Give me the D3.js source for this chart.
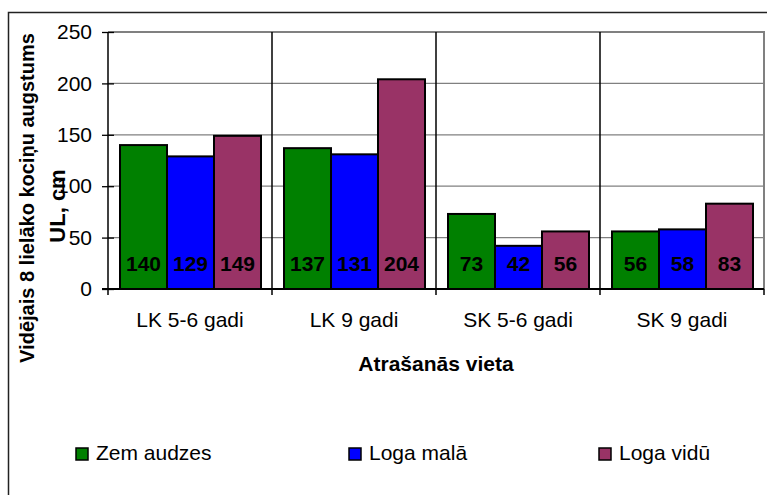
<!DOCTYPE html>
<html>
<head>
<meta charset="utf-8">
<title>Vidējais augstums</title>
<style>
  body { margin: 0; background: #fff; }
  svg text { font-family: "Liberation Sans", Arial, sans-serif; }
</style>
<script src="https://cdnjs.cloudflare.com/ajax/libs/d3/7.8.5/d3.min.js"></script>
</head>
<body>
<svg id="chart" width="767" height="495"></svg>
<script>
// data
const categories = ["LK 5-6 gadi", "LK 9 gadi", "SK 5-6 gadi", "SK 9 gadi"];
const seriesNames = ["Zem audzes", "Loga malā", "Loga vidū"];
const seriesColors = ["#008000", "#0000FF", "#993366"];
const zemAudzes = [140, 137, 73, 56];
const logaMala = [129, 131, 42, 58];
const logaVidu = [149, 204, 56, 83];
const yTicks = [0, 50, 100, 150, 200, 250];

const values = [zemAudzes, logaMala, logaVidu];

const svg = d3.select("#chart");
const LEFT = 108, RIGHT = 764, TOP = 32, BOTTOM = 289;

const xScale = d3.scaleBand()
  .domain(categories)
  .range([LEFT, RIGHT]);

const xSub = d3.scaleBand()
  .domain(seriesNames)
  .range([12, xScale.bandwidth() - 11]);

const yScale = d3.scaleLinear()
  .domain([0, 250])
  .range([BOTTOM, TOP]);

// outer chart border (only top and left visible)
svg.append("path")
  .attr("d", "M8.5,495 L8.5,12.5 L767,12.5")
  .attr("fill", "none")
  .attr("stroke", "#222")
  .attr("stroke-width", 1.5);

// horizontal gridlines
svg.append("g")
  .selectAll("line")
  .data(yTicks.filter(t => t > 0))
  .join("line")
  .attr("x1", LEFT)
  .attr("x2", RIGHT)
  .attr("y1", d => yScale(d))
  .attr("y2", d => yScale(d))
  .attr("stroke", "#808080")
  .attr("stroke-width", d => d === 250 ? 2 : 1.3);

// right border of plot area
svg.append("line")
  .attr("x1", RIGHT).attr("x2", RIGHT)
  .attr("y1", TOP - 1).attr("y2", BOTTOM)
  .attr("stroke", "#808080")
  .attr("stroke-width", 2);

// category dividers (black, crossing the axis)
svg.append("g")
  .selectAll("line")
  .data(categories.slice(1))
  .join("line")
  .attr("x1", d => xScale(d))
  .attr("x2", d => xScale(d))
  .attr("y1", TOP)
  .attr("y2", BOTTOM + 6)
  .attr("stroke", "#000")
  .attr("stroke-width", 1.5);

svg.append("line")
  .attr("x1", RIGHT).attr("x2", RIGHT)
  .attr("y1", BOTTOM).attr("y2", BOTTOM + 6)
  .attr("stroke", "#000")
  .attr("stroke-width", 1.5);

// bars
const groups = svg.append("g")
  .selectAll("g")
  .data(seriesNames)
  .join("g")
  .attr("fill", (d, i) => seriesColors[i]);

groups.selectAll("rect")
  .data((s, i) => values[i].map((v, j) => ({ s: s, cat: categories[j], v: v })))
  .join("rect")
  .attr("x", d => xScale(d.cat) + xSub(d.s))
  .attr("y", d => yScale(d.v))
  .attr("width", xSub.bandwidth())
  .attr("height", d => yScale(0) - yScale(d.v))
  .attr("stroke", "#000")
  .attr("stroke-width", 2);

// value labels at the bar base
groups.selectAll("text")
  .data((s, i) => values[i].map((v, j) => ({ s: s, cat: categories[j], v: v })))
  .join("text")
  .attr("x", d => xScale(d.cat) + xSub(d.s) + xSub.bandwidth() / 2)
  .attr("y", 271)
  .attr("text-anchor", "middle")
  .attr("fill", "#000")
  .style("font-size", "21px")
  .style("font-weight", "bold")
  .text(d => d.v);

// y axis
const yAxis = d3.axisLeft(yScale)
  .tickValues(yTicks)
  .tickSize(6)
  .tickPadding(10);

const yG = svg.append("g")
  .attr("transform", `translate(${LEFT},0)`)
  .call(yAxis);
yG.select(".domain").remove();
yG.selectAll(".tick line").attr("x2", -6).attr("x1", 6).attr("stroke", "#000").attr("stroke-width", 1.3);
yG.selectAll(".tick text")
  .attr("x", -16)
  .style("font-size", "21px")
  .style("font-family", "Liberation Sans, Arial, sans-serif")
  .attr("fill", "#000");

svg.append("line")
  .attr("x1", LEFT).attr("x2", LEFT)
  .attr("y1", TOP).attr("y2", BOTTOM + 6)
  .attr("stroke", "#000")
  .attr("stroke-width", 1.5);

// x axis
const xAxis = d3.axisBottom(xScale).tickSize(0).tickPadding(0);
const xG = svg.append("g")
  .attr("transform", `translate(0,${BOTTOM})`)
  .call(xAxis);
xG.select(".domain").remove();
xG.selectAll(".tick text")
  .attr("y", 38)
  .attr("dy", 0)
  .style("font-size", "21px")
  .style("font-family", "Liberation Sans, Arial, sans-serif")
  .attr("fill", "#000");

svg.append("line")
  .attr("x1", LEFT - 6).attr("x2", RIGHT)
  .attr("y1", BOTTOM).attr("y2", BOTTOM)
  .attr("stroke", "#000")
  .attr("stroke-width", 2);

// axis titles
svg.append("text")
  .attr("x", (LEFT + RIGHT) / 2)
  .attr("y", 371)
  .attr("text-anchor", "middle")
  .style("font-size", "21px")
  .style("font-weight", "bold")
  .text("Atrašanās vieta");

svg.append("text")
  .attr("transform", "translate(34,198) rotate(-90)")
  .attr("text-anchor", "middle")
  .style("font-size", "20px")
  .style("font-weight", "bold")
  .text("Vidējais 8 lielāko kociņu augstums");

svg.append("text")
  .attr("transform", "translate(65,206) rotate(-90)")
  .attr("text-anchor", "middle")
  .style("font-size", "22px")
  .style("font-weight", "bold")
  .text("UL, cm");

// legend
const legendX = [76, 349, 599];
const legend = svg.append("g")
  .selectAll("g")
  .data(seriesNames)
  .join("g")
  .attr("transform", (d, i) => `translate(${legendX[i]},448)`);

legend.append("rect")
  .attr("width", 12)
  .attr("height", 12)
  .attr("fill", (d, i) => seriesColors[i])
  .attr("stroke", "#000")
  .attr("stroke-width", 1.5);

legend.append("text")
  .attr("x", 20)
  .attr("y", 12)
  .style("font-size", "21px")
  .text(d => d);
</script>
</body>
</html>
